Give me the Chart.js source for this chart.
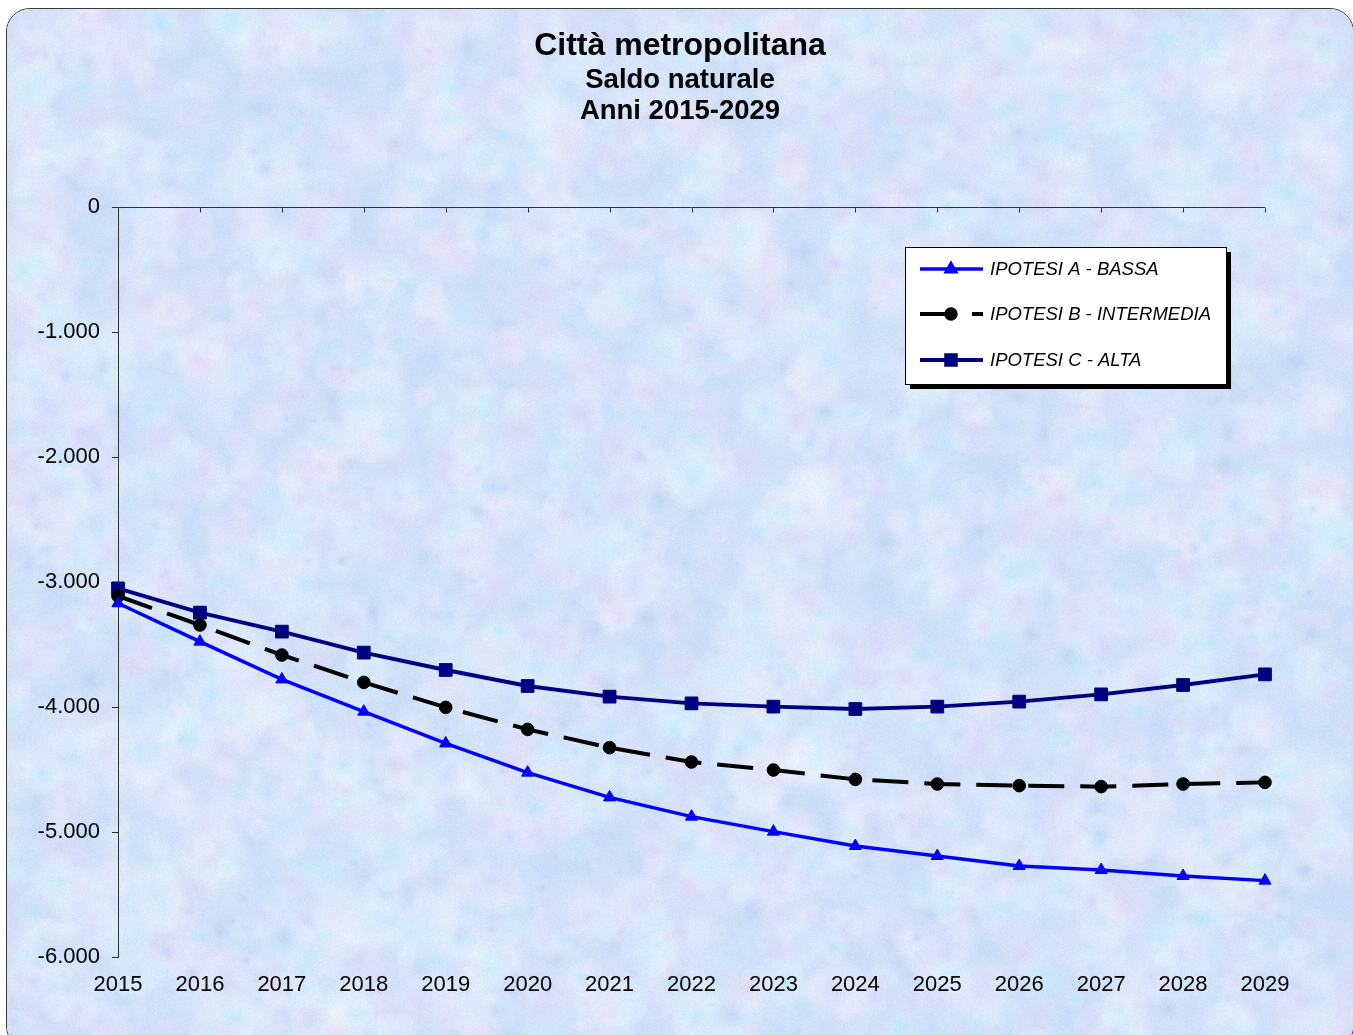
<!DOCTYPE html>
<html>
<head>
<meta charset="utf-8">
<title>Città metropolitana - Saldo naturale</title>
<script src="https://cdn.jsdelivr.net/npm/chart.js@4.4.1/dist/chart.umd.min.js"></script>
<style>
html, body { margin: 0; padding: 0; background: #fff; }
#wrap { position: relative; width: 1353px; height: 1035px; overflow: hidden; }
#frame { position: absolute; left: 6px; top: 8px; width: 1346px; height: 1040px; border: 1.5px solid #3a3a3a; border-radius: 24px; overflow: hidden; }
#bg { position: absolute; left: 0; top: 0; }
#chart { position: absolute; left: 0; top: 0; }
</style>
</head>
<body>
<div id="wrap">
  <div id="frame"><canvas id="bg" width="1346" height="1040"></canvas></div>
  <canvas id="chart" width="1353" height="1035"></canvas>
</div>
<script>
const years = ["2015", "2016", "2017", "2018", "2019", "2020", "2021", "2022",
               "2023", "2024", "2025", "2026", "2027", "2028", "2029"];
const ipotesiA = [-3170, -3477, -3779, -4037, -4291, -4525, -4723, -4877,
                  -4997, -5112, -5192, -5272, -5304, -5352, -5389];
const ipotesiB = [-3112, -3344, -3584, -3803, -4003, -4179, -4325, -4440,
                  -4504, -4579, -4616, -4629, -4637, -4616, -4603];
const ipotesiC = [-3051, -3245, -3397, -3565, -3704, -3832, -3917, -3971,
                  -3997, -4016, -3997, -3957, -3899, -3824, -3739];
const yTicks = [0, -1000, -2000, -3000, -4000, -5000, -6000];
const titleLines = ["Città metropolitana", "Saldo naturale", "Anni 2015-2029"];

// textured pastel background
function paintBackground() {
    const c = document.getElementById("bg");
    const ctx = c.getContext("2d");
    ctx.fillStyle = "rgb(202,220,247)";
    ctx.fillRect(0, 0, c.width, c.height);
    let seed = 12345;
    function rnd() { seed = (seed * 1103515245 + 12345) % 2147483648; return seed / 2147483648; }
    const tints = ["rgba(232,206,242,0.4)", "rgba(182,232,250,0.45)", "rgba(176,200,242,0.35)",
                   "rgba(214,208,248,0.4)", "rgba(230,238,254,0.35)", "rgba(192,236,248,0.4)"];
    for (let i = 0; i < 3500; i++) {
        const x = rnd() * c.width, y = rnd() * c.height, r = 10 + rnd() * 26;
        const g = ctx.createRadialGradient(x, y, 0, x, y, r);
        const col = tints[Math.floor(rnd() * tints.length)];
        g.addColorStop(0, col);
        g.addColorStop(1, "rgba(255,255,255,0)");
        ctx.fillStyle = g;
        ctx.fillRect(x - r, y - r, 2 * r, 2 * r);
    }
    const img = ctx.getImageData(0, 0, c.width, c.height);
    const d = img.data;
    for (let i = 0; i < d.length; i += 4) {
        const n = (rnd() - 0.5) * 8;
        d[i] += n; d[i + 1] += n; d[i + 2] += n;
    }
    ctx.putImageData(img, 0, 0);
}
paintBackground();

function fmt(v) {
    const s = Math.abs(v).toString().replace(/\B(?=(\d{3})+(?!\d))/g, ".");
    return (v < 0 ? "-" : "") + s;
}

const titlePlugin = {
    id: "titoli",
    afterDraw(chart) {
        const ctx = chart.ctx;
        ctx.save();
        ctx.fillStyle = "#000";
        ctx.textAlign = "center";
        ctx.textBaseline = "middle";
        ctx.font = "bold 32px 'Liberation Sans', Arial, sans-serif";
        ctx.fillText(titleLines[0], 680, 46);
        ctx.font = "bold 27.5px 'Liberation Sans', Arial, sans-serif";
        ctx.fillText(titleLines[1], 680, 80);
        ctx.fillText(titleLines[2], 680, 111);
        ctx.restore();
    }
};

// category axis crosses at 0 (top of plot), ticks pointing inward
const topAxisPlugin = {
    id: "asseAlto",
    afterDatasetsDraw(chart) {
        const ctx = chart.ctx;
        const x = chart.scales.x, y = chart.scales.y;
        const y0 = Math.round(y.getPixelForValue(0)) + 0.5;
        ctx.save();
        ctx.strokeStyle = "#333";
        ctx.lineWidth = 1;
        ctx.beginPath();
        ctx.moveTo(chart.chartArea.left, y0);
        ctx.lineTo(chart.chartArea.right, y0);
        for (let i = 0; i < years.length; i++) {
            const px = Math.round(x.getPixelForValue(i)) + 0.5;
            ctx.moveTo(px, y0);
            ctx.lineTo(px, y0 + 5);
        }
        ctx.stroke();
        ctx.restore();
    }
};

const legendPlugin = {
    id: "legenda",
    afterDraw(chart) {
        const ctx = chart.ctx;
        const bx = 905, by = 247, bw = 321, bh = 137;
        ctx.save();
        ctx.fillStyle = "#000";
        ctx.fillRect(bx + 5, by + 5, bw, bh);
        ctx.fillStyle = "#fff";
        ctx.fillRect(bx, by, bw, bh);
        ctx.strokeStyle = "#000";
        ctx.lineWidth = 1;
        ctx.strokeRect(bx + 0.5, by + 0.5, bw, bh);
        const rows = [269, 314, 360];
        chart.data.datasets.forEach((ds, i) => {
            const cy = rows[i];
            ctx.strokeStyle = ds.borderColor;
            ctx.lineWidth = ds.borderWidth;
            ctx.setLineDash(ds.borderDash || []);
            ctx.beginPath();
            ctx.moveTo(920, cy);
            ctx.lineTo(983, cy);
            ctx.stroke();
            ctx.setLineDash([]);
            ctx.fillStyle = ds.pointBackgroundColor;
            ctx.strokeStyle = ds.pointBackgroundColor;
            Chart.helpers.drawPoint(ctx, {
                pointStyle: ds.pointStyle,
                radius: ds.pointRadius * 0.75,
                borderWidth: 1
            }, 951, cy);
            ctx.fillStyle = "#000";
            ctx.font = "italic 18.5px 'Liberation Sans', Arial, sans-serif";
            ctx.textAlign = "left";
            ctx.textBaseline = "middle";
            ctx.fillText(ds.label, 990, cy + 1);
        });
        ctx.restore();
    }
};

new Chart(document.getElementById("chart").getContext("2d"), {
    type: "line",
    data: {
        labels: years,
        datasets: [{
            label: "IPOTESI A - BASSA",
            data: ipotesiA,
            borderColor: "#0000ff",
            backgroundColor: "#0000ff",
            pointBackgroundColor: "#0000ff",
            pointBorderColor: "#0000ff",
            borderWidth: 3.5,
            pointStyle: "triangle",
            pointRadius: 7,
            pointBorderWidth: 1,
            tension: 0
        }, {
            label: "IPOTESI B - INTERMEDIA",
            data: ipotesiB,
            borderColor: "#000000",
            backgroundColor: "#000000",
            pointBackgroundColor: "#000000",
            pointBorderColor: "#000000",
            borderWidth: 4,
            borderDash: [36, 16],
            pointStyle: "circle",
            pointRadius: 6.3,
            pointBorderWidth: 1,
            tension: 0
        }, {
            label: "IPOTESI C - ALTA",
            data: ipotesiC,
            borderColor: "#000080",
            backgroundColor: "#000080",
            pointBackgroundColor: "#000080",
            pointBorderColor: "#000080",
            borderWidth: 4,
            pointStyle: "rect",
            pointRadius: 9,
            pointBorderWidth: 1,
            tension: 0
        }]
    },
    options: {
        responsive: false,
        animation: false,
        devicePixelRatio: 1,
        layout: { padding: { left: 0, top: 207, right: 88, bottom: 0 } },
        plugins: {
            legend: { display: false },
            title: { display: false },
            tooltip: { enabled: false }
        },
        scales: {
            x: {
                grid: { display: false },
                border: { display: false },
                ticks: {
                    color: "#000",
                    padding: 7,
                    maxRotation: 0,
                    font: { family: "'Liberation Sans', Arial, sans-serif", size: 22 }
                },
                afterFit(scale) { scale.height = 78; }
            },
            y: {
                min: -6000,
                max: 0,
                afterBuildTicks(scale) { scale.ticks = yTicks.map(v => ({ value: v })); },
                grid: {
                    drawOnChartArea: false,
                    drawTicks: true,
                    tickLength: 6,
                    color: "#333"
                },
                border: { display: true, color: "#333", width: 1 },
                ticks: {
                    color: "#000",
                    padding: 12,
                    font: { family: "'Liberation Sans', Arial, sans-serif", size: 22 },
                    callback: (v) => fmt(v)
                },
                afterFit(scale) { scale.width = 118; }
            }
        }
    },
    plugins: [titlePlugin, topAxisPlugin, legendPlugin]
});
</script>
</body>
</html>
